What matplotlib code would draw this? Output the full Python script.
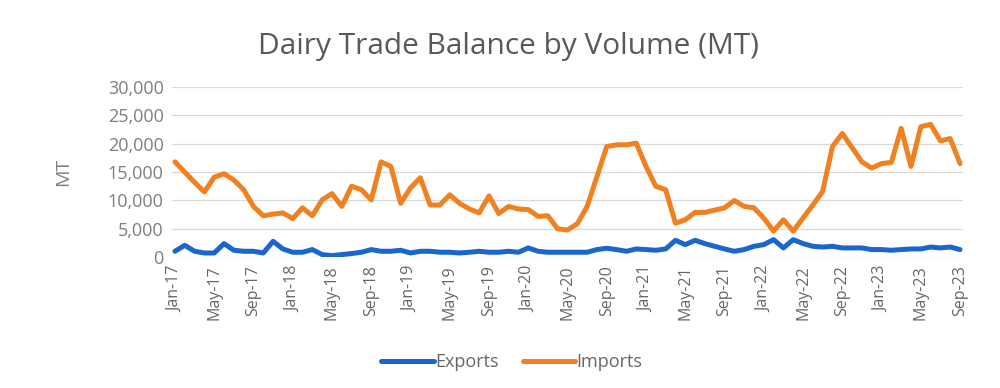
import matplotlib
matplotlib.use("Agg")
import matplotlib.pyplot as plt
import pandas as pd

# monthly values, Jan-17 .. Sep-23 (MT)
months = pd.date_range("2017-01-01", "2023-09-01", freq="MS")

exports = [1050, 2100, 1050, 750, 750, 2400, 1230, 1050, 1050, 750,
           2800, 1460, 880, 880, 1350, 470, 290, 470, 650, 880,
           1350, 1050, 1050, 1230, 750, 1050, 1050, 880, 880, 750,
           880, 1050, 880, 880, 1050, 880, 1640, 1050, 880, 880,
           880, 880, 880, 1350, 1580, 1350, 1050, 1460, 1350, 1230,
           1460, 2980, 2220, 2980, 2400, 1930, 1460, 1050, 1350, 1930,
           2220, 3100, 1640, 3100, 2400, 1930, 1800, 1930, 1640, 1640,
           1640, 1350, 1350, 1230, 1350, 1460, 1460, 1800, 1640, 1800,
           1350]

imports = [16800, 15000, 13200, 11500, 14100, 14700, 13600, 11900, 8950, 7300,
           7600, 7800, 6800, 8700, 7300, 10100, 11200, 8950, 12500, 11900,
           10100, 16800, 16000, 9500, 12200, 14000, 9200, 9200, 11000, 9500,
           8500, 7800, 10800, 7700, 8950, 8500, 8400, 7200, 7300, 5000,
           4800, 5900, 8950, 14200, 19500, 19800, 19800, 20100, 16000, 12500,
           11900, 6000, 6600, 7900, 7900, 8300, 8700, 10000, 8950, 8700,
           6900, 4600, 6600, 4600, 6900, 9200, 11600, 19500, 21800, 19300,
           16800, 15700, 16500, 16700, 22700, 16000, 23000, 23400, 20500, 20900,
           16500]

tick_labels = [m.strftime("%b-%y") for m in months[::4]]

plt.rcParams["font.family"] = ["Open Sans", "DejaVu Sans"]
dark_grey = "#595959"
grey = "#7f7f7f"

fig = plt.figure(figsize=(10, 3.88), dpi=100)
ax = fig.add_axes([0.172, 0.337, 0.791, 0.439])

x = range(len(months))
ax.plot(x, exports, color="#1a66cc", linewidth=3.6, label="Exports", solid_capstyle="round")
ax.plot(x, imports, color="#f08020", linewidth=3.6, label="Imports", solid_capstyle="round")

ax.set_ylim(0, 30000)
ax.set_yticks(range(0, 30001, 5000))
ax.set_yticklabels([f"{v:,}" for v in range(0, 30001, 5000)], fontsize=13, color=grey)
ax.set_xlim(-0.3, len(months) - 0.7)
ax.set_xticks(list(x)[::4])
ax.set_xticklabels(tick_labels, rotation=90, fontsize=11.5, color="#666666")
ax.tick_params(length=0, pad=6)
ax.set_ylabel("MT", fontsize=14, color=grey, labelpad=26)

ax.grid(axis="y", color="#d9d9d9", linewidth=0.9)
ax.set_axisbelow(True)
for s in ax.spines.values():
    s.set_visible(False)

fig.text(0.509, 0.88, "Dairy Trade Balance by Volume (MT)", ha="center", va="center",
         fontsize=21.5, color=dark_grey)
fig.legend(loc="center", bbox_to_anchor=(0.512, 0.067), ncol=2, frameon=False,
           fontsize=13, handlelength=2.9, handletextpad=0.1, columnspacing=1.3,
           labelcolor="#666666")

fig.savefig("out.png", dpi=100)
